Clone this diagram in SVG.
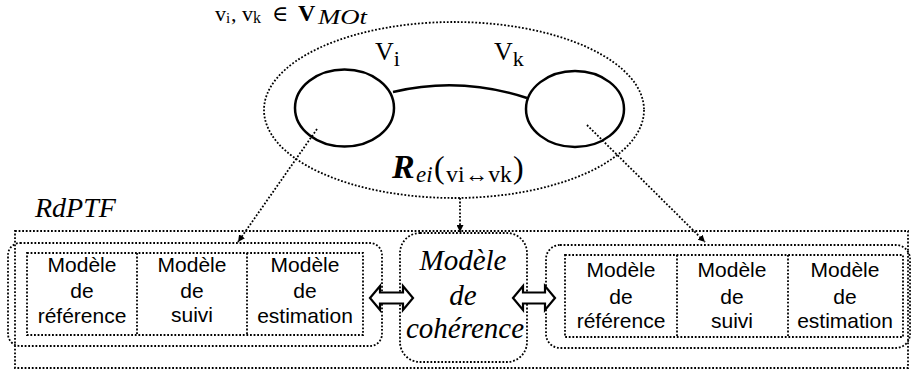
<svg xmlns="http://www.w3.org/2000/svg" width="914" height="373" viewBox="0 0 914 373">
<style>
.dot{fill:none;stroke:#000;stroke-width:1.8;stroke-dasharray:1.8 1.8}
.solid{fill:none;stroke:#000;stroke-width:2.5}
.sans{font-family:"Liberation Sans",Arial,sans-serif;font-size:21px;fill:#000;text-anchor:middle}
.serif{font-family:"Liberation Serif","Times New Roman",serif;fill:#000}
.coh{font-family:"Liberation Serif","Times New Roman",serif;font-style:italic;font-size:29px;fill:#000;text-anchor:middle}
.dbl{fill:#fff;stroke:#000;stroke-width:2.2;stroke-linejoin:miter}
</style>
<defs>
<marker id="ah" viewBox="0 0 10 10" refX="10" refY="5" markerWidth="7" markerHeight="7" markerUnits="userSpaceOnUse" orient="auto">
<path d="M0,0 L10,5 L0,10 z" fill="#000"/>
</marker>
</defs>
<rect width="914" height="373" fill="#fff"/>

<g id="header-label">
<text class="serif" y="21" font-size="22"><tspan x="215">v</tspan><tspan x="226" font-size="15" dy="2">i</tspan><tspan x="231" dy="-2">,</tspan><tspan x="242">v</tspan><tspan x="253" font-size="16" dy="2">k</tspan><tspan x="272" dy="-2" font-family="DejaVu Serif" font-size="22">∈</tspan><tspan x="298" font-weight="bold" font-size="24">V</tspan><tspan x="318" font-style="italic" font-size="22" dy="3" textLength="49" lengthAdjust="spacingAndGlyphs">MOt</tspan></text>
</g>

<g id="relation-ellipse">
<ellipse class="dot" cx="454" cy="110" rx="190" ry="88"/>
<text class="serif" y="178" font-size="32"><tspan x="392" font-weight="bold" font-style="italic" font-size="34">R</tspan><tspan x="416" font-style="italic" font-size="23" dy="4">ei</tspan><tspan x="434" dy="-4">(</tspan><tspan x="446" font-size="23" dy="4" textLength="66" lengthAdjust="spacingAndGlyphs">vi↔vk</tspan><tspan x="513" dy="-4">)</tspan></text>
</g>

<g id="node-vi">
<ellipse class="solid" cx="344.5" cy="108" rx="49.5" ry="38.5"/>
<text class="serif" x="375" y="60" font-size="26">V<tspan font-size="22" dy="6">i</tspan></text>
</g>

<g id="node-vk">
<ellipse class="solid" cx="575" cy="109" rx="49" ry="38"/>
<text class="serif" x="494" y="60" font-size="26">V<tspan font-size="22" dy="6">k</tspan></text>
</g>

<g id="rdptf">
<text class="serif" x="35" y="217" font-size="28" font-style="italic">RdPTF</text>
<rect class="dot" x="15" y="231" width="893" height="137"/>
</g>

<g id="left-group">
<rect class="dot" x="8" y="243" width="374" height="103" rx="12"/>
<rect class="dot" x="27" y="253" width="336" height="82"/>
<line class="dot" x1="137" y1="253" x2="137" y2="335"/>
<line class="dot" x1="247" y1="253" x2="247" y2="335"/>
<text class="sans" x="82" y="272">Modèle</text>
<text class="sans" x="82" y="298">de</text>
<text class="sans" x="82" y="323">référence</text>
<text class="sans" x="192" y="272">Modèle</text>
<text class="sans" x="192" y="298">de</text>
<text class="sans" x="192" y="322">suivi</text>
<text class="sans" x="305" y="272">Modèle</text>
<text class="sans" x="305" y="298">de</text>
<text class="sans" x="305" y="323">estimation</text>
</g>

<g id="coherence">
<rect class="dot" x="400" y="233" width="127" height="129" rx="20"/>
<text class="coh" x="463" y="270">Modèle</text>
<text class="coh" x="463" y="305">de</text>
<text class="coh" x="465" y="338">cohérence</text>
</g>

<g id="right-group">
<rect class="dot" x="546" y="245" width="364" height="103" rx="14"/>
<rect class="dot" x="565" y="255" width="338" height="82"/>
<line class="dot" x1="677" y1="255" x2="677" y2="337"/>
<line class="dot" x1="788" y1="255" x2="788" y2="337"/>
<text class="sans" x="621" y="277">Modèle</text>
<text class="sans" x="621" y="304">de</text>
<text class="sans" x="621" y="328">référence</text>
<text class="sans" x="732" y="277">Modèle</text>
<text class="sans" x="732" y="304">de</text>
<text class="sans" x="732" y="328">suivi</text>
<text class="sans" x="845" y="277">Modèle</text>
<text class="sans" x="845" y="304">de</text>
<text class="sans" x="845" y="328">estimation</text>
</g>

<g id="connectors">
<path class="solid" stroke-width="2" d="M393,92 Q460,76 527,98"/>
<line class="dot" x1="317" y1="129" x2="238" y2="242" marker-end="url(#ah)"/>
<line class="dot" x1="460" y1="198" x2="460" y2="232" marker-end="url(#ah)"/>
<line class="dot" x1="587" y1="125" x2="705" y2="242" marker-end="url(#ah)"/>
<path class="dbl" d="M370,298 L380,286 L380,292.5 L403,292.5 L403,286 L413,298 L403,310 L403,303.5 L380,303.5 L380,310 Z"/>
<path class="dbl" d="M513,298 L523,286 L523,292.5 L545,292.5 L545,286 L555,298 L545,310 L545,303.5 L523,303.5 L523,310 Z"/>
</g>
</svg>
